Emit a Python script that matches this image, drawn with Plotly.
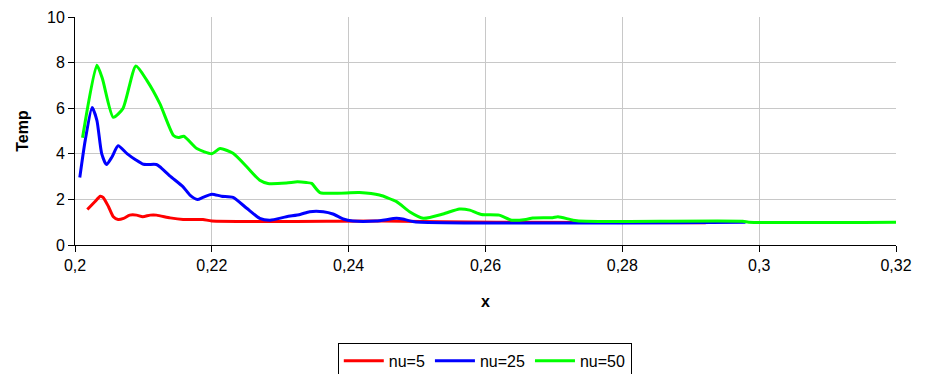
import plotly.graph_objects as go

# Temperature profiles along x for three viscosity values
x_nu5 = [0.2018, 0.2029, 0.2037, 0.2041, 0.2049, 0.2056, 0.2063, 0.2071, 0.2080,
         0.2090, 0.2099, 0.2110, 0.2119, 0.2139, 0.2158, 0.2187, 0.2200, 0.2450,
         0.2616, 0.2922]
t_nu5 = [1.56, 1.90, 2.14, 2.09, 1.68, 1.24, 1.12, 1.17, 1.31,
         1.31, 1.24, 1.31, 1.31, 1.19, 1.12, 1.12, 1.05, 1.05,
         1.00, 0.98]

x_nu25 = [0.2007, 0.2015, 0.2025, 0.2032, 0.2039, 0.2046, 0.2054, 0.2063, 0.2076,
          0.2088, 0.2100, 0.2119, 0.2124, 0.2139, 0.2158, 0.2168, 0.2179, 0.2187,
          0.2200, 0.2214, 0.2231, 0.2251, 0.2270, 0.2285, 0.2309, 0.2329, 0.2343,
          0.2363, 0.2377, 0.2392, 0.2406, 0.2440, 0.2470, 0.2479, 0.2496, 0.2980]
t_nu25 = [2.96, 4.60, 6.03, 5.47, 4.01, 3.53, 3.86, 4.35, 4.01,
          3.75, 3.54, 3.53, 3.43, 3.02, 2.55, 2.19, 2.00, 2.09,
          2.23, 2.14, 2.09, 1.61, 1.17, 1.09, 1.24, 1.34, 1.46,
          1.46, 1.36, 1.14, 1.05, 1.05, 1.17, 1.14, 1.02, 1.00]

x_nu50 = [0.2011, 0.2032, 0.2040, 0.2056, 0.2070, 0.2089, 0.2105, 0.2124, 0.2144,
          0.2151, 0.2159, 0.2178, 0.2200, 0.2212, 0.2231, 0.2251, 0.2270, 0.2282,
          0.2309, 0.2325, 0.2338, 0.2346, 0.2358, 0.2416, 0.2445, 0.2470, 0.2489,
          0.2509, 0.2538, 0.2562, 0.2577, 0.2594, 0.2620, 0.2638, 0.2659, 0.2669,
          0.2698, 0.2706, 0.2728, 0.2747, 0.2976, 0.2985, 0.3200]
t_nu50 = [4.70, 7.88, 7.30, 5.60, 5.98, 7.85, 7.22, 6.20, 4.80,
          4.71, 4.77, 4.23, 4.00, 4.23, 4.02, 3.43, 2.84, 2.70,
          2.72, 2.77, 2.74, 2.70, 2.30, 2.30, 2.19, 1.90, 1.46,
          1.17, 1.36, 1.58, 1.53, 1.34, 1.31, 1.09, 1.12, 1.18,
          1.20, 1.24, 1.09, 1.04, 1.04, 1.00, 1.00]

x_ticks = [0.20, 0.22, 0.24, 0.26, 0.28, 0.30, 0.32]
x_tick_labels = ["0,2", "0,22", "0,24", "0,26", "0,28", "0,3", "0,32"]
y_ticks = [0, 2, 4, 6, 8, 10]
y_tick_labels = ["0", "2", "4", "6", "8", "10"]

series = [
    ("nu=5", x_nu5, t_nu5, "#FF0000"),
    ("nu=25", x_nu25, t_nu25, "#0000FF"),
    ("nu=50", x_nu50, t_nu50, "#00FF00"),
]

fig = go.Figure()
for name, xs, ys, color in series:
    fig.add_trace(go.Scatter(
        x=xs, y=ys, name=name, mode="lines",
        line=dict(color=color, width=3, shape="spline", smoothing=0.6),
    ))

font_family = "Liberation Sans, Arial, sans-serif"

fig.update_layout(
    width=928, height=374,
    margin=dict(l=75, r=32, t=17, b=129),
    paper_bgcolor="white", plot_bgcolor="white",
    font=dict(family=font_family, size=16, color="black"),
    showlegend=True,
    legend=dict(
        orientation="h",
        xref="container", yref="container",
        x=0.364, y=0.083, xanchor="left", yanchor="top",
        bordercolor="black", borderwidth=1, bgcolor="white",
        font=dict(size=16), itemwidth=40, tracegroupgap=0,
    ),
)

fig.update_xaxes(
    range=[0.2, 0.32], tickvals=x_ticks, ticktext=x_tick_labels,
    showgrid=True, gridcolor="#C8C8C8", gridwidth=1,
    showline=True, linecolor="black", linewidth=1,
    ticks="outside", ticklen=6, tickcolor="black",
    zeroline=False,
    title=dict(text="<b>x</b>", standoff=22, font=dict(size=16)),
    automargin=False,
)
fig.update_yaxes(
    range=[0, 10], tickvals=y_ticks, ticktext=y_tick_labels,
    showgrid=True, gridcolor="#C8C8C8", gridwidth=1,
    showline=True, linecolor="black", linewidth=1,
    ticks="outside", ticklen=6, tickcolor="black",
    zeroline=False,
    title=dict(text="<b>Temp</b>", standoff=14, font=dict(size=16)),
    automargin=False,
)

fig.write_html("out.html")
